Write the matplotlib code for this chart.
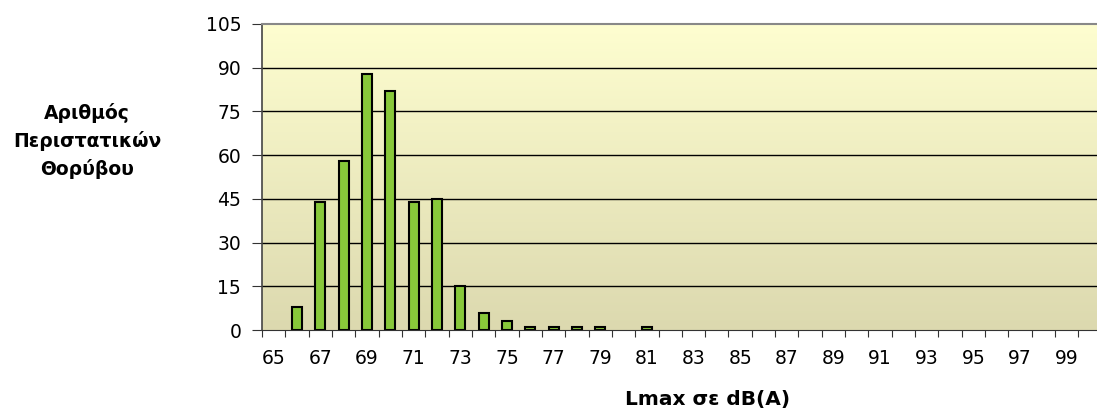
import numpy as np
import matplotlib
matplotlib.use("Agg")
import matplotlib.pyplot as plt

# Dados
niveis = list(range(65, 101))
contagens = [0, 8, 44, 58, 88, 82, 44, 45, 15, 6, 3, 1, 1, 1, 1, 0, 1,
             0, 0, 0, 0, 0, 0, 0, 0, 0, 0, 0, 0, 0, 0, 0, 0, 0, 0, 0]
rotulos_x = [str(n) for n in range(65, 100, 2)]
ticks_y = [0, 15, 30, 45, 60, 75, 90, 105]

plt.rcParams["font.family"] = ["DejaVu Sans"]

fig = plt.figure(figsize=(10.97, 4.17), dpi=100)
ax = fig.add_axes([262 / 1097, 1 - 330 / 417, 1 - 262 / 1097, 306 / 417])

# Fundo em gradiente
grad = np.linspace(0, 1, 256).reshape(-1, 1)
cores = np.zeros((256, 1, 3))
topo = np.array([0xFE, 0xFE, 0xD0]) / 255
base = np.array([0xDC, 0xD9, 0xAF]) / 255
cores[:, 0, :] = topo + (base - topo) * grad
ax.imshow(cores, extent=[0, 1, 0, 1], transform=ax.transAxes, aspect="auto", zorder=0)

ax.set_ylim(0, 105)
ax.set_xlim(64.5, 100.3)

for y in ticks_y[1:-1]:
    ax.axhline(y, color="black", lw=1.0, zorder=1)

# so as barras com valor (as de zero nao aparecem)
xs = [n for n, c in zip(niveis, contagens) if c > 0]
ys = [c for c in contagens if c > 0]
ax.bar(xs, ys, width=0.43, color="#88c83a", edgecolor="black",
       linewidth=1.5, zorder=2)

ax.set_yticks(ticks_y)
ax.set_yticklabels([str(t) for t in ticks_y], fontsize=13.5)
ax.set_xticks([n + 0.5 for n in range(64, 100)])
ax.set_xticklabels([])
ax.set_xticks(list(range(65, 100, 2)), minor=True)
ax.set_xticklabels(rotulos_x, minor=True, fontsize=13.5)
ax.tick_params(axis="x", which="minor", length=0, pad=14)
ax.tick_params(axis="x", which="major", length=5, direction="out", color="#333333")
ax.tick_params(axis="y", length=7, direction="out", pad=8, color="#333333")

ax.spines["top"].set_color("#888888")
ax.spines["top"].set_linewidth(1.5)
ax.spines["left"].set_color("#444444")
ax.spines["left"].set_linewidth(1.2)
ax.spines["bottom"].set_color("#333333")
ax.spines["right"].set_visible(False)

fig.text(87 / 1097, 1 - 141 / 417, "Αριθμός\nΠεριστατικών\nΘορύβου",
         ha="center", va="center", fontsize=13.5, fontweight="bold", linespacing=1.5)
fig.text(708 / 1097, 1 - 400 / 417, "Lmax σε dB(A)", ha="center", va="center",
         fontsize=14.5, fontweight="bold")

fig.savefig("out.png", dpi=100)
